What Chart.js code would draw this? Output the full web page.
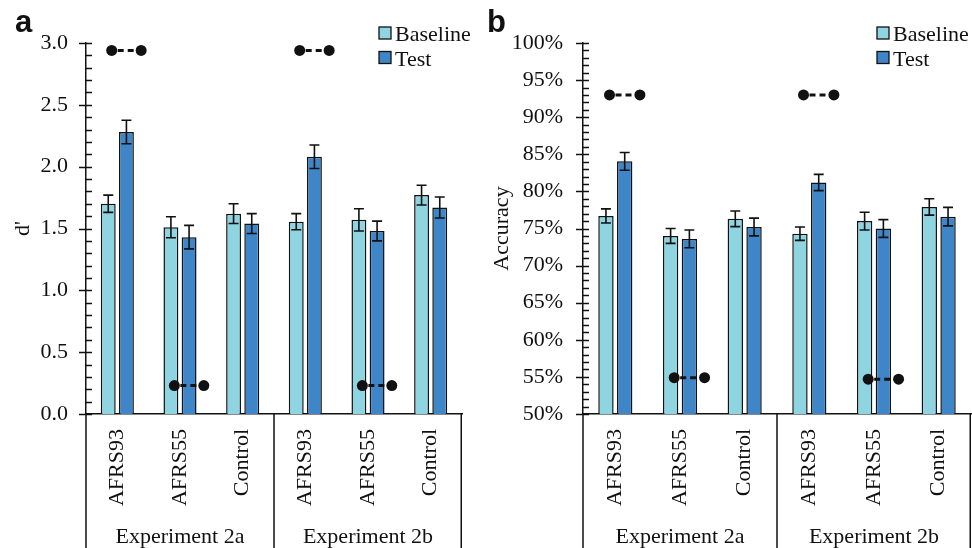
<!DOCTYPE html>
<html>
<head>
<meta charset="utf-8">
<script src="https://cdn.jsdelivr.net/npm/chart.js@4.4.1/dist/chart.umd.min.js"></script>
<style>
  html, body { margin: 0; padding: 0; background: #fff; }
  .wrap { display: flex; width: 972px; height: 548px; }
  canvas { display: block; }
</style>
</head>
<body>
<div class="wrap">
  <canvas id="chartD" width="486" height="548"></canvas>
  <canvas id="chartAcc" width="486" height="548"></canvas>
</div>
<script>
// カテゴリ
const categories = ['AFRS93', 'AFRS55', 'Control', 'AFRS93', 'AFRS55', 'Control'];
const groups = ['Experiment 2a', 'Experiment 2b'];

// d' (panel a)
const dBaseline = [1.70, 1.51, 1.62, 1.555, 1.57, 1.77];
const dBaselineErr = [0.07, 0.085, 0.08, 0.065, 0.09, 0.08];
const dTest = [2.28, 1.43, 1.54, 2.08, 1.48, 1.67];
const dTestErr = [0.095, 0.095, 0.08, 0.095, 0.08, 0.085];

// Accuracy % (panel b)
const accBaseline = [76.7, 74.0, 76.3, 74.3, 76.0, 77.9];
const accBaselineErr = [0.95, 1.0, 1.05, 0.9, 1.2, 1.1];
const accTest = [84.05, 73.6, 75.2, 81.2, 75.0, 76.6];
const accTestErr = [1.2, 1.2, 1.2, 1.1, 1.2, 1.25];

// 有意差マーカー (category index, level)
const sigCats = [0, 3, 1, 4];
const dSigLevels = [2.94, 2.94, 0.23, 0.23];
const accSigLevels = [93.0, 93.0, 54.9, 54.7];
const sigSpan = [-0.09, 0.38];

const BASE_COLOR = '#8fd4e1';
const TEST_COLOR = '#3f86c8';
const INK = '#111';
const SERIF = "'Liberation Serif', 'DejaVu Serif', serif";

// 縦軸の目盛り・エラーバー・下の枠・凡例を描く
const decorPlugin = {
    id: 'decor',
    afterDatasetsDraw(chart, args, opts) {
        const ctx = chart.ctx;
        const y = chart.scales.y;

        // error bars
        ctx.save();
        ctx.strokeStyle = INK;
        ctx.lineWidth = 1.6;
        chart.data.datasets.forEach((ds, di) => {
            if (!ds.errors) return;
            const meta = chart.getDatasetMeta(di);
            meta.data.forEach((bar, i) => {
                const v = ds.data[i];
                const e = ds.errors[i];
                const top = y.getPixelForValue(v + e);
                const bot = y.getPixelForValue(v - e);
                ctx.beginPath();
                ctx.moveTo(bar.x, top); ctx.lineTo(bar.x, bot);
                ctx.moveTo(bar.x - 5, top); ctx.lineTo(bar.x + 5, top);
                ctx.moveTo(bar.x - 5, bot); ctx.lineTo(bar.x + 5, bot);
                ctx.stroke();
            });
        });
        ctx.restore();
    },
    afterDraw(chart, args, opts) {
        const ctx = chart.ctx;
        const y = chart.scales.y;
        const x = chart.scales.x;
        const area = chart.chartArea;

        // y ticks: major crosses the axis, minor inside only
        ctx.save();
        ctx.strokeStyle = INK;
        ctx.lineWidth = 1.5;
        const n = Math.round((y.max - y.min) / opts.minorStep);
        for (let k = 0; k <= n; k++) {
            const v = y.min + k * opts.minorStep;
            const py = Math.round(y.getPixelForValue(v)) + 0.5;
            const major = k % opts.majorEvery === 0;
            ctx.beginPath();
            ctx.moveTo(area.left - (major ? 7 : 0), py);
            ctx.lineTo(area.left + 6, py);
            ctx.stroke();
        }

        // bottom category box
        const mid = (x.getPixelForValue(2) + x.getPixelForValue(3)) / 2;
        ctx.beginPath();
        [x.left, mid, x.right - 0.75].forEach(px => {
            ctx.moveTo(px, area.bottom);
            ctx.lineTo(px, chart.height);
        });
        ctx.stroke();

        ctx.fillStyle = INK;
        ctx.font = '22px ' + SERIF;
        ctx.textAlign = 'center';
        ctx.textBaseline = 'alphabetic';
        ctx.fillText(groups[0], (x.left + mid) / 2, 543);
        ctx.fillText(groups[1], (mid + x.right) / 2, 543);

        // legend
        const bars = chart.data.datasets.filter(d => d.type !== 'line');
        bars.forEach((ds, i) => {
            const top = 27 + i * 24.5;
            ctx.fillStyle = ds.backgroundColor;
            ctx.fillRect(opts.legendX, top, 12, 12);
            ctx.lineWidth = 1.3;
            ctx.strokeRect(opts.legendX, top, 12, 12);
            ctx.fillStyle = INK;
            ctx.textAlign = 'left';
            ctx.fillText(ds.label, opts.legendX + 16, top + 14);
        });

        // panel letter
        ctx.font = "bold 31px 'Liberation Sans', Arial, sans-serif";
        ctx.fillText(opts.letter, opts.letterX, 32);
        ctx.restore();
    }
};

function makeChart(canvasId, cfg) {
    const datasets = [
        {
            label: 'Baseline', data: cfg.base, errors: cfg.baseErr,
            backgroundColor: BASE_COLOR, borderColor: INK, borderWidth: 1.5, order: 1
        },
        {
            label: 'Test', data: cfg.test, errors: cfg.testErr,
            backgroundColor: TEST_COLOR, borderColor: INK, borderWidth: 1.5, order: 1
        }
    ];
    // マーカーはカテゴリ軸上の小数位置 (parsing: false)
    sigCats.forEach((c, i) => {
        datasets.push({
            type: 'line', order: 0, parsing: false,
            data: sigSpan.map(o => ({ x: c + o, y: cfg.sig[i] })),
            borderColor: INK, borderWidth: 3, borderDash: [6, 4], borderDashOffset: -6,
            pointRadius: 5.5, pointBackgroundColor: INK, pointBorderWidth: 0
        });
    });

    return new Chart(document.getElementById(canvasId).getContext('2d'), {
        type: 'bar',
        data: { labels: categories, datasets: datasets },
        options: {
            responsive: false,
            animation: false,
            devicePixelRatio: 1,
            layout: { autoPadding: false, padding: { top: 43, right: cfg.padRight, left: 0, bottom: 0 } },
            datasets: { bar: { categoryPercentage: 0.58, barPercentage: 0.82 } },
            plugins: {
                legend: { display: false },
                tooltip: { enabled: false },
                decor: {
                    minorStep: cfg.minorStep, majorEvery: cfg.majorEvery,
                    legendX: cfg.legendX, letter: cfg.letter, letterX: cfg.letterX
                }
            },
            scales: {
                x: {
                    afterFit: s => { s.height = 134; s.paddingLeft = 0; s.paddingRight = 0; },
                    grid: { display: false, drawTicks: false },
                    border: { display: true, color: INK, width: 1.5 },
                    ticks: {
                        autoSkip: false, minRotation: 90, maxRotation: 90, padding: 15,
                        color: INK, font: { family: SERIF, size: 22 }
                    }
                },
                y: {
                    min: cfg.min, max: cfg.max,
                    afterFit: s => { s.width = cfg.yWidth; s.paddingTop = 0; s.paddingBottom = 0; },
                    grid: { display: false, drawTicks: false },
                    border: { display: true, color: INK, width: 1.5 },
                    title: {
                        display: true, text: cfg.title, color: INK,
                        font: { family: SERIF, size: 22 }, padding: cfg.titlePad
                    },
                    ticks: {
                        stepSize: cfg.step, padding: cfg.tickPad, color: INK,
                        font: { family: SERIF, size: 22 },
                        callback: cfg.fmt
                    }
                }
            }
        },
        plugins: [decorPlugin]
    });
}

makeChart('chartD', {
    base: dBaseline, baseErr: dBaselineErr, test: dTest, testErr: dTestErr, sig: dSigLevels,
    min: 0, max: 3, step: 0.5, minorStep: 0.1, majorEvery: 5,
    fmt: v => Number(v).toFixed(1), title: "d'", titlePad: 10, tickPad: 18,
    yWidth: 86, padRight: 24, legendX: 379, letter: 'a', letterX: 15
});

makeChart('chartAcc', {
    base: accBaseline, baseErr: accBaselineErr, test: accTest, testErr: accTestErr, sig: accSigLevels,
    min: 50, max: 100, step: 5, minorStep: 1, majorEvery: 5,
    fmt: v => Math.round(v) + '%', title: 'Accuracy', titlePad: 3, tickPad: 20,
    yWidth: 97, padRight: 1, legendX: 391, letter: 'b', letterX: 1
});
</script>
</body>
</html>
